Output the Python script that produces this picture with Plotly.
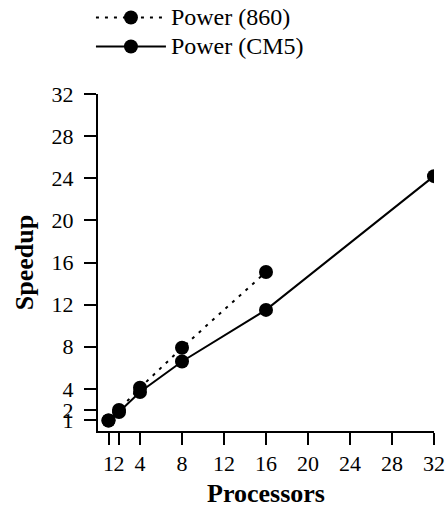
import plotly.graph_objects as go

procs_860 = [1, 2, 4, 8, 16]
speedup_860 = [1.0, 2.0, 4.1, 7.9, 15.1]
procs_cm5 = [1, 2, 4, 8, 16, 32]
speedup_cm5 = [1.0, 1.8, 3.7, 6.6, 11.5, 24.2]
tick_vals = [1, 2, 4, 8, 12, 16, 20, 24, 28, 32]
tick_text = [str(v) for v in tick_vals]
series_names = ["Power (860)", "Power (CM5)"]

FONT = "Liberation Serif"


def legend_label(txt):
    return "<span style='font-size:24px'>" + txt + "</span>"


fig = go.Figure()
fig.add_trace(go.Scatter(
    x=procs_860, y=speedup_860, mode="lines+markers", name=legend_label(series_names[0]),
    line=dict(color="black", width=2, dash="3px,6px"),
    marker=dict(color="black", size=14),
))
fig.add_trace(go.Scatter(
    x=procs_cm5, y=speedup_cm5, mode="lines+markers", name=legend_label(series_names[1]),
    line=dict(color="black", width=2),
    marker=dict(color="black", size=14),
))

axis_common = dict(
    range=[0, 32], tickvals=tick_vals, ticktext=tick_text,
    showline=True, linecolor="black", linewidth=2,
    ticks="outside", ticklen=12, tickwidth=2, tickcolor="black",
    showgrid=False, zeroline=False, automargin=False, tickangle=0,
    tickfont=dict(family=FONT, size=22, color="black"),
)

fig.update_layout(
    width=446, height=508,
    margin=dict(l=98, r=12, t=94, b=77, autoexpand=False),
    plot_bgcolor="white", paper_bgcolor="white",
    font=dict(family=FONT, color="black"),
    xaxis=dict(**axis_common,
               title=dict(text="<b>Processors</b>", font=dict(family=FONT, size=26), standoff=12)),
    yaxis=dict(**axis_common, ticklabelstandoff=6,
               title=dict(text="<b>Speedup</b>", font=dict(family=FONT, size=26), standoff=10)),
    showlegend=True,
    legend=dict(x=-0.021, y=1.285, xanchor="left", yanchor="top",
                font=dict(family=FONT, size=20),
                bgcolor="rgba(0,0,0,0)", itemwidth=70, tracegroupgap=0),
)

fig.write_html(
    "out.html",
    config={"displayModeBar": False},
    post_script="document.body.style.margin='0';document.documentElement.style.overflow='hidden';",
)
